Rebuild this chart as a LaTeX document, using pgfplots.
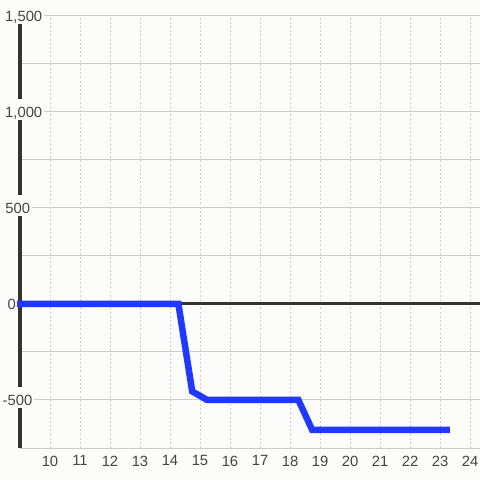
\documentclass[border=0pt]{standalone}
\usepackage{fontspec}
\setmainfont{Liberation Sans}
\usepackage{pgfplots}
\pgfplotsset{compat=1.18}
\definecolor{bg}{RGB}{252,253,251}
\definecolor{gridc}{RGB}{204,204,204}
\definecolor{axc}{RGB}{51,51,51}
\definecolor{txt}{RGB}{68,68,68}
\definecolor{lineblue}{RGB}{32,56,255}
\newcommand{\lblfont}{\fontsize{14.8bp}{17bp}\selectfont}
\begin{document}
\begin{tikzpicture}
\fill[bg] (0,0) rectangle (480bp,480bp);
\useasboundingbox (0,0) rectangle (480bp,480bp);
\tikzset{ylab/.style={anchor=west, fill=bg, inner xsep=1.5bp, inner ysep=0pt, text height=18.2bp, text depth=2.8bp, yshift=2.5bp, font=\lblfont, text=txt}}
\begin{axis}[at={(20bp,32bp)}, anchor=south west, scale only axis,
  width=460bp, height=432bp,
  xmin=9, xmax=24.3333, ymin=-750, ymax=1500,
  axis line style={draw=none},
  major tick length=0pt, minor tick length=0pt,
  xtick={10,...,24}, ytick={-750,-500,...,1500}, yticklabels={},
  grid=major,
  x grid style={gridc, line width=1bp, dash pattern=on 2bp off 2.2bp},
  y grid style={gridc, line width=1bp},
  xticklabel style={font=\lblfont, text=txt, inner sep=0pt, anchor=north, yshift=-7.5bp},
  /pgf/number format/assume math mode=true,
  clip=false,
]
\draw[axc, line width=3bp] (axis cs:9,0) -- (axis cs:24.3333,0);
\draw[axc, line width=3.5bp] (axis cs:9,-750) -- (axis cs:9,1500);
\addplot[lineblue, line width=6.5bp, line join=miter, mark=none] coordinates {
(8.9,0) (14.28,0) (14.74,-455) (15.24,-500) (18.28,-500) (18.74,-656) (23.33,-656)};
\node[ylab, xshift=-16.5bp] at (axis cs:9,1500) {1,500};
\node[ylab, xshift=-16.5bp] at (axis cs:9,1000) {1,000};
\node[ylab, xshift=-16.2bp] at (axis cs:9,500) {500};
\node[ylab, xshift=-14.1bp] at (axis cs:9,0) {0};
\node[ylab, xshift=-19bp] at (axis cs:9,-500) {-500};
\end{axis}
\end{tikzpicture}
\end{document}
